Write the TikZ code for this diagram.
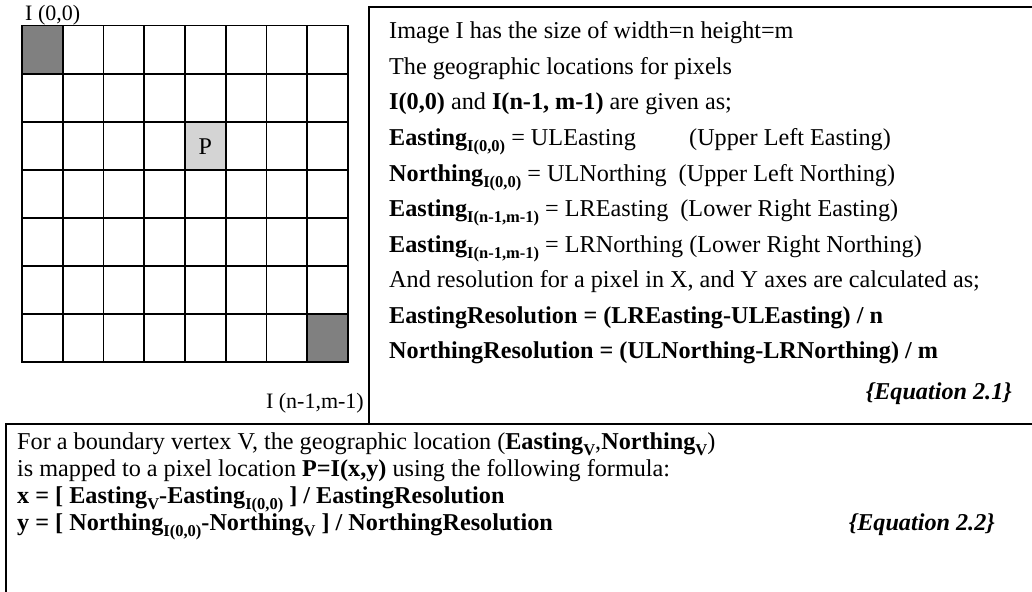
\documentclass[tikz,border=0pt]{standalone}
\usepackage{fontspec}
\setmainfont{Liberation Serif}
\definecolor{darkcell}{HTML}{808080}
\definecolor{lightcell}{HTML}{D4D4D4}
\newcommand\sbs[1]{\raisebox{-0.26em}{\fontsize{16.5}{16.5}\selectfont\bfseries #1}}
\tikzset{
  txt/.style={anchor=base west, inner sep=0pt, font=\fontsize{24.2}{24.2}\selectfont},
  eqtxt/.style={anchor=base east, inner sep=0pt, font=\fontsize{24.2}{24.2}\selectfont\bfseries\itshape},
  lbl/.style={inner sep=0pt, font=\fontsize{22}{22}\selectfont},
  frame/.style={line width=2pt},
  gridline/.style={line width=1.6pt, line cap=rect},
}
\begin{document}
\begin{tikzpicture}[x=1pt,y=-1pt]
\useasboundingbox (0,0) rectangle (1032,591);
% shaded cells
\fill[darkcell] (22,25.7) rectangle (62.75,73.74);
\fill[darkcell] (307.25,313.96) rectangle (348,362);
\fill[lightcell] (185,121.78) rectangle (225.75,169.82);
% grid
\foreach \i in {0,...,8} \draw[gridline] ({22+\i*40.75},25.7) -- ({22+\i*40.75},362);
\foreach \j in {0,...,7} \draw[gridline] (22,{25.7+\j*48.043}) -- (348,{25.7+\j*48.043});
\node[lbl, anchor=base west] (origin) at (25,20.5) {I (0,0)};
\node[lbl, anchor=base east] (last) at (364,408) {I (n-1,m-1)};
\node[inner sep=0pt, font=\fontsize{24}{24}\selectfont] (p) at (205.4,146.5) {P};
% frames
\draw[frame] (369,425) -- (369,7) -- (1034,7);
\draw[frame] (6,595) -- (6,424) -- (1034,424);
% right box text
\node[txt] (r1) at (389,39) {Image I has the size of width=n height=m};
\node[txt] (r2) at (389,74.5) {The geographic locations for pixels};
\node[txt] (r3) at (389,110) {\textbf{I(0,0)} and \textbf{I(n-1, m-1)} are given as;};
\node[txt] (r4) at (389,145.5) {\textbf{Easting}\sbs{I(0,0)} = ULEasting};
\node[txt] (r4b) at (689,145.5) {(Upper Left Easting)};
\node[txt] (r5) at (389,181) {\textbf{Northing}\sbs{I(0,0)} = ULNorthing\hspace{12pt}(Upper Left Northing)};
\node[txt] (r6) at (389,216.5) {\textbf{Easting}\sbs{I(n-1,m-1)} = LREasting\hspace{12pt}(Lower Right Easting)};
\node[txt] (r7) at (389,252) {\textbf{Easting}\sbs{I(n-1,m-1)} = LRNorthing (Lower Right Northing)};
\node[txt] (r8) at (389,287.5) {And resolution for a pixel in X, and Y axes are calculated as;};
\node[txt] (r9) at (389,323) {\textbf{EastingResolution = (LREasting-ULEasting) / n}};
\node[txt] (r10) at (389,358.5) {\textbf{NorthingResolution = (ULNorthing-LRNorthing) / m}};
\node[eqtxt] (eq1) at (1012,399) {\{Equation 2.1\}};
% bottom box text
\node[txt] (b1) at (17,449) {For a boundary vertex V, the geographic location (\textbf{Easting}\sbs{V},\textbf{Northing}\sbs{V})};
\node[txt] (b2) at (17,476) {is mapped to a pixel location \textbf{P=I(x,y)} using the following formula:};
\node[txt] (b3) at (17,503) {\textbf{x = [ Easting\sbs{V}-Easting\sbs{I(0,0)} ] / EastingResolution}};
\node[txt] (b4) at (17,530) {\textbf{y = [ Northing\sbs{I(0,0)}-Northing\sbs{V} ] / NorthingResolution}};
\node[eqtxt] (eq2) at (995,530) {\{Equation 2.2\}};
\end{tikzpicture}
\end{document}
